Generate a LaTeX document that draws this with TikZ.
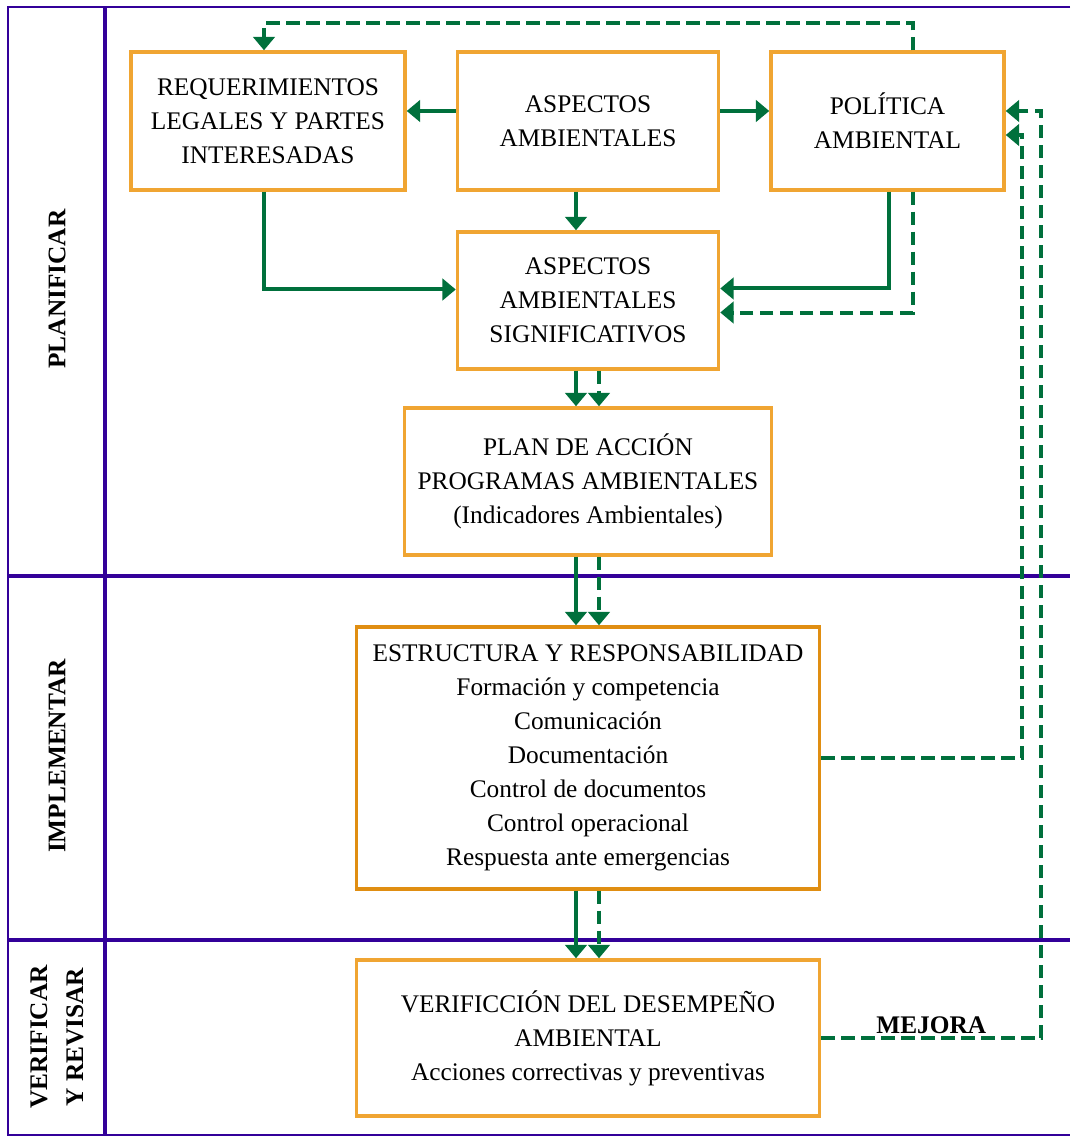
\documentclass[tikz,border=0pt]{standalone}
\usepackage{fontspec}
\setmainfont{Liberation Serif}
\usetikzlibrary{positioning,arrows.meta,calc}
\definecolor{cLane}{HTML}{330099}
\definecolor{cBox}{HTML}{F0A532}
\definecolor{cBoxD}{HTML}{E08E12}
\definecolor{cArr}{HTML}{00703C}
\tikzset{
  base/.style={draw=cBox,line width=2.6pt,align=center,font=\fontsize{19}{25.5}\selectfont,inner sep=0pt,fill=white},
  box/.style={base}, ebox/.style={base,draw=cBoxD},
  lane/.style={draw=cLane,line width=2.8pt},
  lanelbl/.style={font=\fontsize{19}{27}\selectfont\bfseries,align=center,rotate=90},
  arr/.style={-{Triangle[length=10pt,width=16pt]},draw=cArr,line width=3pt},
  darr/.style={arr,dash pattern=on 10pt off 5pt},
  lbl/.style={font=\fontsize{19}{25.5}\selectfont\bfseries,inner sep=2pt}}

\begin{document}
\begin{tikzpicture}[x=0.75pt,y=-0.75pt]
\useasboundingbox (0,0) rectangle (1070,1137);
% lanes
\draw[lane,line width=1.6pt] (1070,7) -- (8,7) -- (8,1135) -- (1070,1135);
\draw[lane] (105,7) -- (105,1135);
\draw[lane] (8,576) -- (1070,576);
\draw[lane] (8,940) -- (1070,940);
\node[lanelbl] (lplan) at (57,289) {PLANIFICAR};
\node[lanelbl] (limpl) at (57,756) {IMPLEMENTAR};
\node[lanelbl] (lverif) at (57,1037) {VERIFICAR\\Y REVISAR};
% boxes
\node[box,minimum width=205.5pt,minimum height=103.5pt] (req) at (268,121) {REQUERIMIENTOS\\LEGALES Y PARTES\\INTERESADAS};
\node[box,minimum width=195.75pt,minimum height=103.5pt] (asp) at (588,121) {ASPECTOS\\AMBIENTALES};
\node[box,minimum width=174.75pt,minimum height=103.5pt] (pol) at (887.5,121) {POLÍTICA\\AMBIENTAL};
\node[box,minimum width=195.75pt,minimum height=102.75pt] (sig) at (588,300.5) {ASPECTOS\\AMBIENTALES\\SIGNIFICATIVOS};
\node[box,minimum width=275.25pt,minimum height=110.25pt] (plan) at (588,481.5) {PLAN DE ACCIÓN\\PROGRAMAS AMBIENTALES\\(Indicadores Ambientales)};
\node[ebox,minimum width=347.25pt,minimum height=196.5pt] (estr) at (588,758) {ESTRUCTURA Y RESPONSABILIDAD\\Formación y competencia\\Comunicación\\Documentación\\Control de documentos\\Control operacional\\Respuesta ante emergencias};
\node[box,minimum width=347.25pt,minimum height=117pt] (verif) at (588,1038) {VERIFICCIÓN DEL DESEMPEÑO\\AMBIENTAL\\Acciones correctivas y preventivas};
% solid flow
\draw[arr] ($(asp.west)+(0,-10)$) -- ($(req.east)+(0,-10)$);
\draw[arr] ($(asp.east)+(0,-10)$) -- ($(pol.west)+(0,-10)$);
\draw[arr] ($(asp.south)+(-12,0)$) -- ($(sig.north)+(-12,0)$);
\draw[arr] ($(req.south)+(-4,0)$) |- ($(sig.west)+(0,-11)$);
\draw[arr] ($(pol.south)+(1.5,0)$) |- ($(sig.east)+(0,-12)$);
\draw[arr] ($(sig.south)+(-12,0)$) -- ($(plan.north)+(-12,0)$);
\draw[arr] ($(plan.south)+(-12,0)$) -- ($(estr.north)+(-12,0)$);
\draw[arr] ($(estr.south)+(-12,0)$) -- ($(verif.north)+(-12,0)$);
% dashed feedback
\draw[darr] ($(pol.north)+(25,0)$) -- ++(0,-27) -| ($(req.north)+(-4,0)$);
\draw[darr] ($(pol.south)+(25,0)$) |- ($(sig.east)+(0,12)$);
\draw[darr] ($(sig.south)+(11,0)$) -- ($(plan.north)+(11,0)$);
\draw[darr] ($(plan.south)+(11,0)$) -- ($(estr.north)+(11,0)$);
\draw[darr] ($(estr.south)+(11,0)$) -- ($(verif.north)+(11,0)$);
\draw[darr] (estr.east) -- ++(201,0) |- ($(pol.east)+(0,14)$);
\draw[darr] (verif.east) -- node[lbl,above] (mej) {MEJORA} ++(220,0) |- ($(pol.east)+(0,-10)$);
\end{tikzpicture}
\end{document}
